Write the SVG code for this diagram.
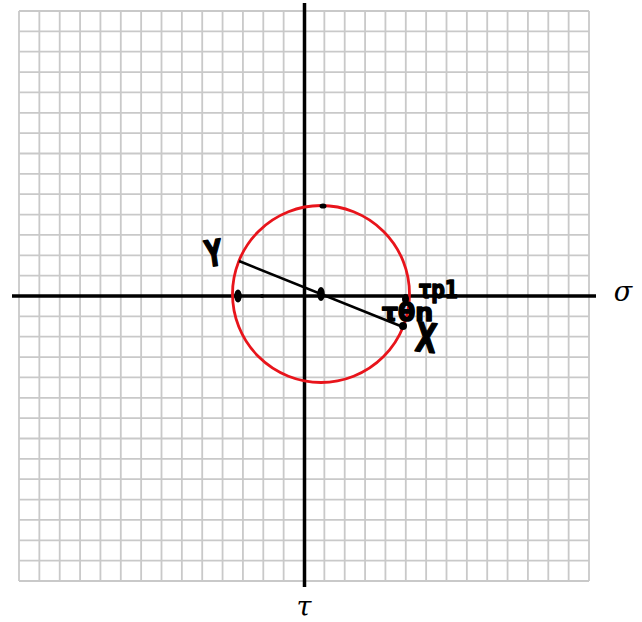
<svg xmlns="http://www.w3.org/2000/svg" width="642" height="622" viewBox="0 0 642 622">
<style>
.g{stroke:#c9c9c9;stroke-width:1.8;fill:none}
.ax{stroke:#000;stroke-width:3.5;fill:none}
.hand{font-family:"DejaVu Sans",sans-serif;font-weight:bold;fill:#000;stroke:#000;stroke-width:1.6;stroke-linejoin:round}
.lab{font-family:"DejaVu Serif","Liberation Serif",serif;font-style:italic;font-size:27px;fill:#000}
</style>
<rect width="642" height="622" fill="#fff"/>
<g id="grid">
<path class="g" d="M19 11V581M39.36 11V581M59.71 11V581M80.07 11V581M100.43 11V581M120.79 11V581M141.14 11V581M161.5 11V581M181.86 11V581M202.21 11V581M222.57 11V581M242.93 11V581M263.29 11V581M283.64 11V581M304 11V581M324.36 11V581M344.71 11V581M365.07 11V581M385.43 11V581M405.79 11V581M426.14 11V581M446.5 11V581M466.86 11V581M487.21 11V581M507.57 11V581M527.93 11V581M548.29 11V581M568.64 11V581M589 11V581"/>
<path class="g" d="M19 11H589M19 31.36H589M19 51.71H589M19 72.07H589M19 92.43H589M19 112.79H589M19 133.14H589M19 153.5H589M19 173.86H589M19 194.21H589M19 214.57H589M19 234.93H589M19 255.29H589M19 275.64H589M19 296H589M19 316.36H589M19 336.71H589M19 357.07H589M19 377.43H589M19 397.79H589M19 418.14H589M19 438.5H589M19 458.86H589M19 479.21H589M19 499.57H589M19 519.93H589M19 540.29H589M19 560.64H589M19 581H589"/>
</g>
<g id="axes">
<line class="ax" x1="304.5" y1="3" x2="304.5" y2="587"/>
<line class="ax" x1="12" y1="296" x2="596" y2="296"/>
</g>
<g id="circle">
<circle cx="321" cy="294" r="88.5" fill="none" stroke="#e8141b" stroke-width="2.8"/>
</g>
<g id="connectors">
<line x1="239" y1="261" x2="403" y2="327" stroke="#000" stroke-width="2.6"/>
</g>
<g id="marks" fill="#000">
<ellipse cx="238" cy="296" rx="3.8" ry="6.5"/>
<circle cx="262" cy="296" r="2"/>
<ellipse cx="321" cy="294" rx="3.8" ry="7"/>
<ellipse cx="323" cy="206" rx="3.5" ry="2.6"/>
<ellipse cx="405.5" cy="299" rx="3.5" ry="5"/>
<circle cx="403" cy="326" r="4"/>
</g>
<g id="labels">
<text class="lab" x="623" y="301" text-anchor="middle">σ</text>
<text class="lab" x="304" y="616" text-anchor="middle">τ</text>
<text class="hand" x="205" y="266" font-size="36" textLength="17" lengthAdjust="spacingAndGlyphs" transform="rotate(-8 213 252)">Y</text>
<text class="hand" x="416" y="352" font-size="40" textLength="21" lengthAdjust="spacingAndGlyphs" transform="rotate(6 426 335)">X</text>
<text class="hand" x="419" y="298" font-size="25" textLength="39" lengthAdjust="spacingAndGlyphs">τp1</text>
<text class="hand" x="382" y="321" font-size="25" textLength="51" lengthAdjust="spacingAndGlyphs">τθn</text>
</g>
</svg>
